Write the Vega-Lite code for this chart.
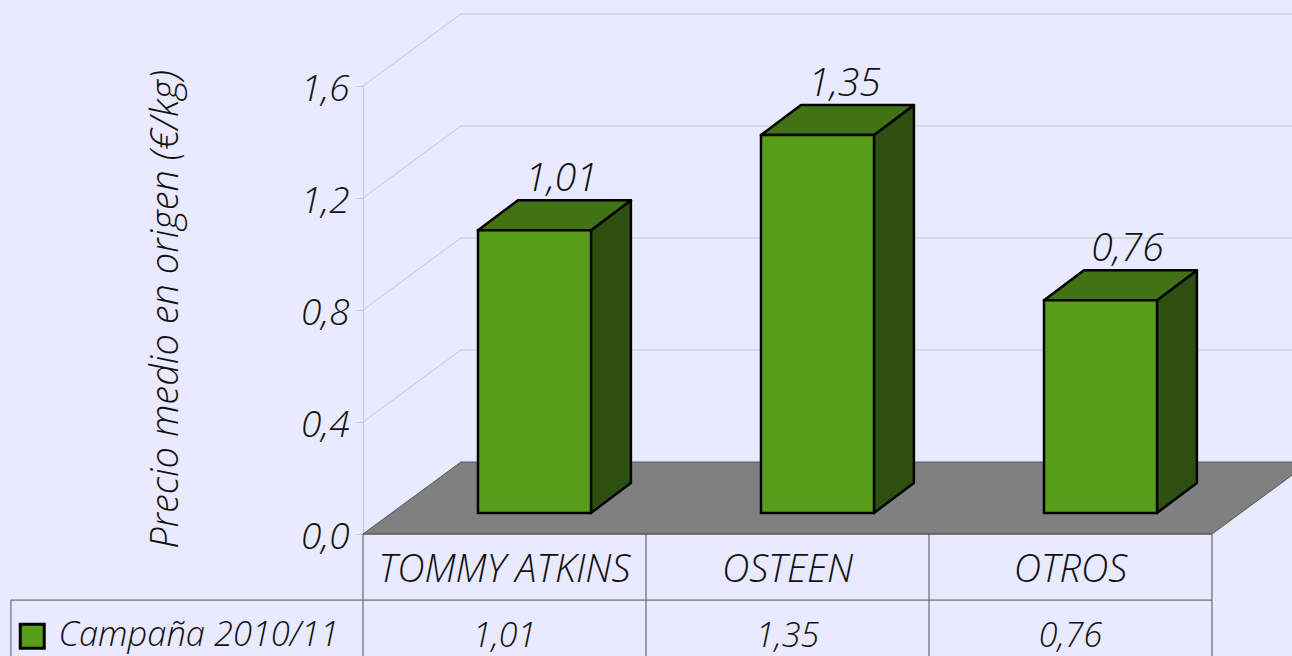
{
"$schema":"https://vega.github.io/schema/vega-lite/v6.json",
"width":1292,"height":656,"padding":0,"autosize":"none","background":"#E9E9FF",
"config":{"view":{"stroke":null},"locale":{"number":{"decimal":",","thousands":".","grouping":[3],"currency":["","€"]}},
"text":{"font":"Open Sans","fontStyle":"italic","fontWeight":300},
"axis":{"labelFont":"Open Sans","titleFont":"Open Sans"}},
"datasets":{
"bars":[{"variedad":"TOMMY ATKINS","precio":1.01,"serie":"Campaña 2010/11"},{"variedad":"OSTEEN","precio":1.35,"serie":"Campaña 2010/11"},{"variedad":"OTROS","precio":0.76,"serie":"Campaña 2010/11"}],
"side":[{"variedad":"TOMMY ATKINS","fondo":0,"alto":1.01,"bajo":0},{"variedad":"TOMMY ATKINS","fondo":1,"alto":1.117,"bajo":0.107},{"variedad":"OSTEEN","fondo":0,"alto":1.35,"bajo":0},{"variedad":"OSTEEN","fondo":1,"alto":1.457,"bajo":0.107},{"variedad":"OTROS","fondo":0,"alto":0.76,"bajo":0},{"variedad":"OTROS","fondo":1,"alto":0.867,"bajo":0.107}],
"grid":[{"t":0.4,"u":0,"v":0.4},{"t":0.4,"u":0.346,"v":0.657},{"t":0.4,"u":3.35,"v":0.657},{"t":0.8,"u":0,"v":0.8},{"t":0.8,"u":0.346,"v":1.057},{"t":0.8,"u":3.35,"v":1.057},{"t":1.2,"u":0,"v":1.2},{"t":1.2,"u":0.346,"v":1.457},{"t":1.2,"u":3.35,"v":1.457},{"t":1.6,"u":0,"v":1.6},{"t":1.6,"u":0.346,"v":1.857},{"t":1.6,"u":3.35,"v":1.857}],
"floor":[{"u":0,"v":0,"v2":0},{"u":0.346,"v":0.257,"v2":0},{"u":3,"v":0.257,"v2":0},{"u":3.346,"v":0.257,"v2":0.257}],
"table":[{"u":0,"u2":0,"v":0,"v2":-0.44},{"u":1,"u2":1,"v":0,"v2":-0.44},{"u":2,"u2":2,"v":0,"v2":-0.44},{"u":3,"u2":3,"v":0,"v2":-0.44},{"u":-1.244,"u2":-1.244,"v":-0.236,"v2":-0.44},{"u":-1.244,"u2":3,"v":-0.236,"v2":-0.236},{"u":0,"u2":3,"v":0,"v2":0}]
},
"layer":[
{"data":{"name":"floor"},"mark":{"type":"area","color":"#808080","stroke":"#555555","strokeWidth":1,"clip":true},
"encoding":{"x":{"field":"u","type":"quantitative","scale":{"domain":[0,3],"range":[363,1212]},"axis":null},
"y":{"field":"v","type":"quantitative","scale":{"domain":[0,1.6],"range":[534,86]},"axis":null},"y2":{"field":"v2"}}},
{"data":{"name":"grid"},"mark":{"type":"line","color":"#C8C8C8","strokeWidth":1,"clip":true},
"encoding":{"x":{"field":"u","type":"quantitative","scale":{"domain":[0,3],"range":[363,1212]},"axis":null},
"y":{"field":"v","type":"quantitative","scale":{"domain":[0,1.6],"range":[534,86]},
"axis":{"values":[0,0.4,0.8,1.2,1.6],"format":".1f","offset":-363,"title":"Precio medio en origen (€/kg)","titleFontSize":38,"titleFontWeight":300,"titleFontStyle":"italic","titleColor":"#111111","titleX":-178,"titleY":309,"labelFontSize":37,"labelFontWeight":300,"labelFontStyle":"italic","labelColor":"#111111","labelPadding":7,"labelOffset":3,"tickColor":"#C8C8C8","tickSize":7,"domainColor":"#C8C8C8","grid":false}},
"detail":{"field":"t"},"order":{"field":"u"}}},
{"data":{"name":"side"},"mark":{"type":"area","color":"#2D5010","stroke":"#000000","strokeWidth":2.5,"strokeJoin":"round"},
"encoding":{"x":{"field":"variedad","type":"nominal","sort":null,"scale":{"type":"band","range":[393,1242],"paddingInner":0.6,"paddingOuter":0.3},"axis":null},
"xOffset":{"field":"fondo","type":"quantitative","scale":{"domain":[0,1],"range":[113,153]}},
"y":{"field":"alto","type":"quantitative","scale":{"domain":[0,1.6],"range":[513,65]},"axis":null},"y2":{"field":"bajo"},"detail":{"field":"variedad"}}},
{"data":{"name":"bars"},"mark":{"type":"point","filled":true,"fill":"#417314","stroke":"#000000","strokeWidth":2.5,"strokeJoin":"round","opacity":1,"size":4,"shape":"M-56.5 0L56.5 0L96.5 -30L-16.5 -30Z"},
"encoding":{"x":{"field":"variedad","type":"nominal","sort":null,"scale":{"type":"band","range":[393,1242],"paddingInner":0.6,"paddingOuter":0.3},"axis":null},
"y":{"field":"precio","type":"quantitative","scale":{"domain":[0,1.6],"range":[513,65]},"axis":null}}},
{"data":{"name":"bars"},"mark":{"type":"bar","stroke":"#000000","strokeWidth":2.5,"width":113},
"encoding":{"x":{"field":"variedad","type":"nominal","sort":null,"scale":{"type":"band","range":[393,1242],"paddingInner":0.6,"paddingOuter":0.3},"axis":null},
"y":{"field":"precio","type":"quantitative","scale":{"domain":[0,1.6],"range":[513,65]},"axis":null},
"color":{"field":"serie","type":"nominal","scale":{"range":["#589C1B"]},"legend":{"orient":"none","legendX":15,"legendY":619,"title":null,"symbolType":"square","symbolSize":576,"symbolStrokeColor":"#000000","symbolStrokeWidth":3,"labelFont":"Open Sans","labelFontSize":34.5,"labelFontWeight":300,"labelFontStyle":"italic","labelColor":"#111111","labelOffset":9,"labelLimit":400}}}},
{"data":{"name":"bars"},"mark":{"type":"text","fontSize":39,"color":"#111111","dx":27,"dy":-51,"baseline":"middle"},
"encoding":{"x":{"field":"variedad","type":"nominal","sort":null,"scale":{"type":"band","range":[393,1242],"paddingInner":0.6,"paddingOuter":0.3},"axis":null},
"y":{"field":"precio","type":"quantitative","scale":{"domain":[0,1.6],"range":[513,65]},"axis":null},
"text":{"field":"precio","type":"quantitative","format":".2f"}}},
{"data":{"name":"table"},"mark":{"type":"rule","color":"#555555","strokeWidth":1},
"encoding":{"x":{"field":"u","type":"quantitative","scale":{"domain":[0,3],"range":[363,1212]},"axis":null},"x2":{"field":"u2"},
"y":{"field":"v","type":"quantitative","scale":{"domain":[0,1.6],"range":[534,86]},"axis":null},"y2":{"field":"v2"}}},
{"data":{"name":"bars"},"mark":{"type":"text","fontSize":34,"color":"#111111","baseline":"middle"},
"encoding":{"x":{"field":"variedad","type":"nominal","sort":null,"scale":{"type":"band","range":[363,1212],"padding":0},
"axis":{"orient":"bottom","offset":-122,"title":null,"domain":false,"ticks":false,"labelAngle":0,"labelPadding":17,"labelFontSize":38,"labelFontWeight":300,"labelFontStyle":"italic","labelColor":"#111111","labelLimit":300}},
"y":{"datum":-0.368,"scale":{"domain":[0,1.6],"range":[534,86]},"axis":null},
"text":{"field":"precio","type":"quantitative","format":".2f"}}}
],
"resolve":{"scale":{"x":"independent","y":"independent","color":"independent"},"axis":{"x":"independent","y":"independent"}}
}
